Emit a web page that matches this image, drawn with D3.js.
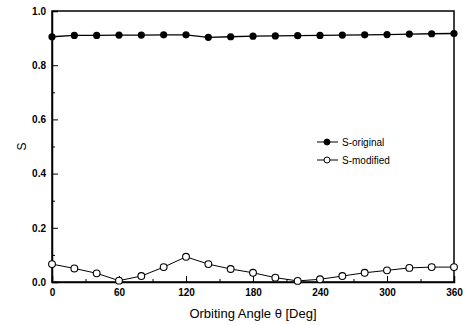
<!DOCTYPE html>
<html>
<head>
<meta charset="utf-8">
<script src="https://cdn.jsdelivr.net/npm/d3@7"></script>
<style>
  body { margin: 0; background: #fff; }
  svg { font-family: "Liberation Sans", Arial, sans-serif; }
</style>
</head>
<body>
<script>
const angles = [0, 20, 40, 60, 80, 100, 120, 140, 160, 180, 200, 220, 240, 260, 280, 300, 320, 340, 360];
const sOriginal = [0.905, 0.91, 0.91, 0.911, 0.911, 0.912, 0.912, 0.903, 0.905, 0.907, 0.908, 0.909, 0.91, 0.911, 0.912, 0.913, 0.915, 0.916, 0.917];
const sModified = [0.066, 0.05, 0.032, 0.005, 0.022, 0.055, 0.093, 0.066, 0.048, 0.034, 0.016, 0.004, 0.01, 0.022, 0.034, 0.043, 0.052, 0.055, 0.055];
const xTicks = [0, 60, 120, 180, 240, 300, 360];
const yTicks = [0.0, 0.2, 0.4, 0.6, 0.8, 1.0];

const w = 468;
const h = 325;
const margin = { left: 52, right: 14, top: 11, bottom: 43 };

const svg = d3.select("body").append("svg").attr("width", w).attr("height", h);

const xScale = d3.scaleLinear().domain([0, 360]).range([margin.left, w - margin.right]);
const yScale = d3.scaleLinear().domain([0, 1]).range([h - margin.bottom, margin.top]);

// frame
svg.append("rect")
  .attr("x", margin.left).attr("y", margin.top)
  .attr("width", w - margin.left - margin.right)
  .attr("height", h - margin.top - margin.bottom)
  .attr("fill", "none").attr("stroke", "#000").attr("stroke-width", 1.5);

// x axis: ticks pointing inward
const xAxis = d3.axisBottom(xScale).tickValues(xTicks).tickSize(-6).tickPadding(7).tickFormat(d3.format("d"));
const gx = svg.append("g")
  .attr("transform", "translate(0," + (h - margin.bottom) + ")")
  .call(xAxis);
gx.select(".domain").attr("stroke-width", 1.5);
svg.append("g")
  .attr("transform", "translate(0," + (h - margin.bottom) + ")")
  .call(d3.axisBottom(xScale).tickValues(d3.range(30, 360, 60)).tickSize(-3).tickFormat(""))
  .select(".domain").remove();

// y axis
const yAxis = d3.axisLeft(yScale).tickValues(yTicks).tickSize(-6).tickPadding(10).tickFormat(d3.format(".1f"));
const gy = svg.append("g")
  .attr("transform", "translate(" + margin.left + ",0)")
  .call(yAxis);
gy.select(".domain").attr("stroke-width", 1.5);
svg.append("g")
  .attr("transform", "translate(" + margin.left + ",0)")
  .call(d3.axisLeft(yScale).tickValues([0.1, 0.3, 0.5, 0.7, 0.9]).tickSize(-3).tickFormat(""))
  .select(".domain").remove();

svg.selectAll(".tick text")
  .attr("font-size", 10).attr("font-weight", "bold")
  .attr("font-family", "'Liberation Sans', Arial, sans-serif");
gy.selectAll(".tick text").attr("dx", 4);

// lines
const line = d3.line().x((d, i) => xScale(angles[i])).y((d) => yScale(d));

svg.append("path").datum(sOriginal)
  .attr("d", line).attr("fill", "none").attr("stroke", "#000").attr("stroke-width", 1.3);
svg.append("path").datum(sModified)
  .attr("d", line).attr("fill", "none").attr("stroke", "#000").attr("stroke-width", 1);

svg.selectAll("circle.orig")
  .data(sOriginal).enter().append("circle")
  .attr("class", "orig")
  .attr("cx", (d, i) => xScale(angles[i]))
  .attr("cy", (d) => yScale(d))
  .attr("r", 3.6).attr("fill", "#000");

svg.selectAll("circle.mod")
  .data(sModified).enter().append("circle")
  .attr("class", "mod")
  .attr("cx", (d, i) => xScale(angles[i]))
  .attr("cy", (d) => yScale(d))
  .attr("r", 3.4).attr("fill", "#fff").attr("stroke", "#000").attr("stroke-width", 1.1);

// legend
const legend = [
  { label: "S-original", fill: "#000", y: 142 },
  { label: "S-modified", fill: "#fff", y: 160 },
];
const lg = svg.append("g");
legend.forEach((l) => {
  lg.append("line").attr("x1", 317).attr("x2", 338).attr("y1", l.y).attr("y2", l.y)
    .attr("stroke", "#000").attr("stroke-width", 1);
  lg.append("circle").attr("cx", 327).attr("cy", l.y).attr("r", 3)
    .attr("fill", l.fill).attr("stroke", "#000").attr("stroke-width", 1);
  lg.append("text").attr("x", 342).attr("y", l.y + 3.5).attr("font-size", 10)
    .text(l.label);
});

// axis titles
svg.append("text")
  .attr("x", (margin.left + w - margin.right) / 2).attr("y", 318)
  .attr("text-anchor", "middle").attr("font-size", 13)
  .text("Orbiting Angle θ [Deg]");

svg.append("text")
  .attr("transform", "translate(26," + ((margin.top + h - margin.bottom) / 2) + ") rotate(-90)")
  .attr("text-anchor", "middle").attr("font-size", 12)
  .text("S");
</script>
</body>
</html>
